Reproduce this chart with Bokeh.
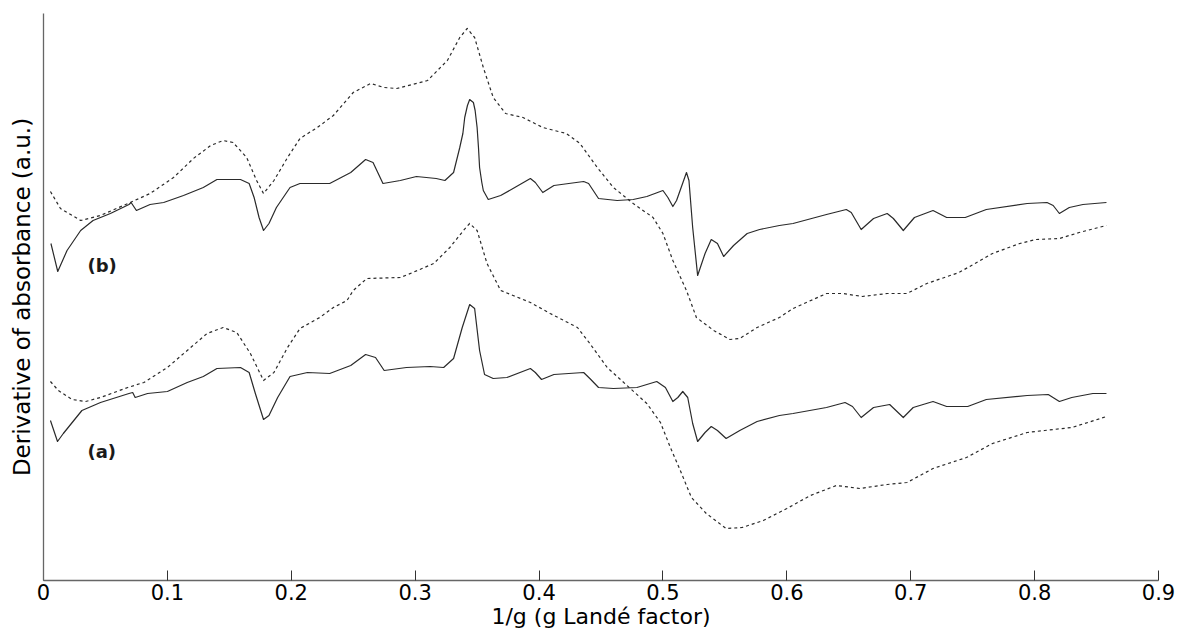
from bokeh.plotting import figure
from bokeh.models import Range1d, FixedTicker, ColumnDataSource
from bokeh.core.properties import value
from bokeh.embed import file_html
from bokeh.resources import INLINE

# ---- data (x = 1/g, y = derivative of absorbance, arbitrary units) ----
b_solid_x = [0.006,0.0115,0.019,0.030,0.040,0.054,0.069,0.0707,0.075,0.086,0.097,0.113,0.129,0.140,0.159,0.166,0.170,0.174,0.1776,0.182,0.188,0.199,0.207,0.231,0.248,0.260,0.266,0.274,0.288,0.301,0.317,0.324,0.331,0.336,0.3385,0.340,0.3422,0.344,0.347,0.3484,0.350,0.3511,0.352,0.3538,0.355,0.359,0.369,0.379,0.393,0.397,0.403,0.412,0.436,0.440,0.448,0.463,0.476,0.487,0.500,0.504,0.508,0.511,0.519,0.521,0.524,0.528,0.534,0.539,0.544,0.549,0.557,0.568,0.578,0.594,0.605,0.632,0.648,0.652,0.660,0.670,0.681,0.686,0.694,0.703,0.718,0.729,0.744,0.761,0.794,0.810,0.815,0.820,0.828,0.839,0.858]
b_solid_y = [33.7,30.9,33.0,35.0,36.0,36.7,37.6,37.8,37.0,37.6,37.8,38.5,39.3,40.1,40.1,39.7,38.3,36.3,35.0,35.7,37.3,39.3,39.7,39.7,40.8,42.1,41.8,39.7,40.0,40.4,40.2,40.0,40.8,43.3,44.7,46.3,47.5,48.1,47.8,47.0,45.3,43.3,41.3,39.8,39.0,38.1,38.5,39.2,40.2,39.8,38.8,39.5,39.9,39.7,38.2,38.0,38.1,38.4,39.0,38.3,37.4,38.0,40.8,40.0,35.3,30.5,32.7,34.1,33.7,32.4,33.5,34.7,35.1,35.5,35.7,36.6,37.1,36.8,35.1,36.2,36.7,36.2,35.0,36.3,37.0,36.3,36.3,37.1,37.7,37.8,37.5,36.7,37.3,37.6,37.8]

b_dash_x = [0.0056,0.0137,0.030,0.046,0.070,0.086,0.105,0.121,0.135,0.145,0.153,0.164,0.172,0.1776,0.186,0.197,0.207,0.221,0.234,0.250,0.264,0.275,0.285,0.310,0.326,0.336,0.342,0.348,0.355,0.363,0.373,0.387,0.403,0.422,0.433,0.447,0.460,0.476,0.492,0.500,0.508,0.519,0.527,0.541,0.554,0.562,0.576,0.594,0.605,0.632,0.645,0.661,0.681,0.697,0.713,0.739,0.766,0.788,0.801,0.820,0.836,0.858]
b_dash_y = [38.9,37.2,36.0,36.5,37.8,38.7,40.3,42.2,43.5,44.0,43.8,42.3,40.0,38.7,40.0,42.3,44.2,45.3,46.5,48.8,49.7,49.3,49.2,50.0,52.0,54.3,55.2,54.3,51.3,48.3,46.7,46.3,45.3,44.7,43.7,41.3,39.3,37.7,36.3,34.7,32.0,29.0,26.3,25.0,24.1,24.2,25.3,26.3,27.2,28.7,28.7,28.4,28.7,28.7,29.7,30.8,32.7,33.7,34.1,34.2,34.8,35.5]

a_solid_x = [0.0056,0.0113,0.016,0.031,0.046,0.069,0.072,0.074,0.084,0.100,0.116,0.129,0.140,0.159,0.166,0.171,0.1776,0.182,0.189,0.199,0.213,0.231,0.248,0.260,0.268,0.275,0.293,0.312,0.323,0.331,0.338,0.344,0.348,0.352,0.356,0.363,0.374,0.393,0.397,0.402,0.412,0.436,0.441,0.448,0.460,0.479,0.495,0.502,0.508,0.512,0.516,0.520,0.524,0.528,0.534,0.539,0.544,0.551,0.562,0.576,0.594,0.605,0.632,0.647,0.653,0.660,0.670,0.683,0.694,0.702,0.718,0.729,0.746,0.761,0.794,0.811,0.820,0.830,0.847,0.858]
a_solid_y = [16.0,13.9,14.7,17.0,17.8,18.7,18.8,18.3,18.7,18.9,19.8,20.4,21.2,21.3,20.8,18.7,16.1,16.5,18.3,20.4,20.8,20.7,21.5,22.6,22.3,21.0,21.3,21.4,21.3,22.2,25.3,27.6,27.2,23.0,20.6,20.2,20.3,21.2,20.8,20.1,20.6,20.8,20.2,19.3,19.2,19.3,19.9,19.3,17.9,18.3,18.9,18.3,15.7,13.9,14.8,15.4,15.0,14.2,15.0,15.9,16.5,16.7,17.3,17.8,17.4,16.3,17.3,17.6,16.3,17.3,17.9,17.4,17.4,18.1,18.5,18.6,17.9,18.3,18.7,18.7]

a_dash_x = [0.0056,0.012,0.023,0.034,0.046,0.068,0.081,0.100,0.116,0.132,0.145,0.156,0.167,0.1776,0.186,0.197,0.207,0.223,0.234,0.245,0.250,0.261,0.288,0.298,0.315,0.328,0.339,0.344,0.350,0.358,0.369,0.379,0.393,0.409,0.431,0.441,0.455,0.471,0.487,0.498,0.506,0.514,0.523,0.535,0.551,0.564,0.581,0.600,0.619,0.640,0.659,0.681,0.697,0.718,0.745,0.766,0.794,0.808,0.830,0.843,0.858]
a_dash_y = [19.9,19.0,18.1,17.9,18.3,19.3,19.8,21.3,23.0,24.7,25.3,24.8,22.7,20.0,20.8,23.3,25.2,26.3,27.3,28.0,29.0,30.2,30.3,30.8,31.7,33.3,35.0,35.7,35.0,31.7,29.0,28.5,27.8,26.7,25.3,23.7,21.3,19.5,17.7,15.8,13.3,11.0,8.3,6.7,5.2,5.3,6.0,7.2,8.5,9.5,9.2,9.6,9.8,11.2,12.3,13.7,14.8,15.0,15.3,15.8,16.4]

x_ticks = [0, 0.1, 0.2, 0.3, 0.4, 0.5, 0.6, 0.7, 0.8, 0.9]
x_tick_labels = ["0", "0.1", "0.2", "0.3", "0.4", "0.5", "0.6", "0.7", "0.8", "0.9"]

label_text = ["(b)", "(a)"]
label_x = [0.0355, 0.0355]
label_y = [31.5, 12.9]

FONT = "DejaVu Sans"

p = figure(width=1181, height=644, output_backend="svg", toolbar_location=None,
           x_range=Range1d(0, 0.9), y_range=Range1d(0, 56.7),
           min_border_left=43, min_border_right=23, min_border_top=13, min_border_bottom=64)
p.outline_line_color = None
p.xgrid.visible = False
p.ygrid.visible = False
p.background_fill_color = "white"
p.border_fill_color = "white"

for xs, ys, dash in [(b_solid_x, b_solid_y, "solid"), (b_dash_x, b_dash_y, "3 3"),
                     (a_solid_x, a_solid_y, "solid"), (a_dash_x, a_dash_y, "3 3")]:
    p.line(xs, ys, line_color="#2a2a2a", line_width=1.2, line_dash=dash, line_join="round")

src = ColumnDataSource(dict(x=label_x, y=label_y, t=label_text))
p.text(x="x", y="y", text="t", source=src, text_font=value(FONT), text_font_style="bold",
       text_font_size="18px", text_align="left", text_baseline="middle", text_color="#1a1a1a")

xa = p.xaxis[0]
xa.ticker = FixedTicker(ticks=x_ticks)
xa.major_label_overrides = {t: l for t, l in zip(x_ticks, x_tick_labels)}
xa.major_tick_in = 10
xa.major_tick_out = 0
xa.minor_tick_line_color = None
xa.axis_line_color = "#666666"
xa.axis_line_width = 1.3
xa.major_tick_line_color = "#333333"
xa.major_label_text_font = FONT
xa.major_label_text_font_size = "21px"
xa.major_label_text_color = "black"
xa.major_label_standoff = 3
xa.axis_label = "1/g (g Landé factor)"
xa.axis_label_text_font = FONT
xa.axis_label_text_font_size = "22px"
xa.axis_label_text_font_style = "normal"
xa.axis_label_text_color = "black"
xa.axis_label_standoff = 1

ya = p.yaxis[0]
ya.ticker = FixedTicker(ticks=[])
ya.major_tick_in = 0
ya.major_tick_out = 0
ya.minor_tick_line_color = None
ya.axis_line_color = "#666666"
ya.axis_line_width = 1.3
ya.major_label_text_font_size = "0px"
ya.axis_label = "Derivative of absorbance (a.u.)"
ya.axis_label_text_font = FONT
ya.axis_label_text_font_size = "23px"
ya.axis_label_text_font_style = "normal"
ya.axis_label_text_color = "black"
ya.axis_label_standoff = 9

open("out.html", "w").write(file_html(p, INLINE))
